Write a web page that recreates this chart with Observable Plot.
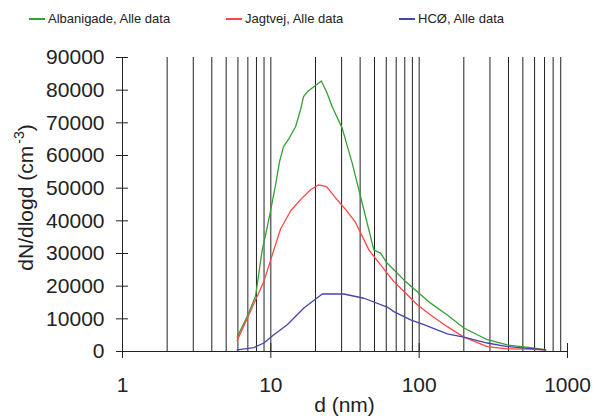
<!DOCTYPE html>
<html><head><meta charset="utf-8">
<script src="https://cdn.jsdelivr.net/npm/d3@7"></script>
<script src="https://cdn.jsdelivr.net/npm/@observablehq/plot@0.6"></script>
<style>
body{margin:0;background:#fff;font-family:"Liberation Sans",Arial,sans-serif;}
#wrap{position:relative;width:595px;height:416px;overflow:hidden;}
#legend{position:relative;height:36px;font-size:13px;color:#222;}
.item{position:absolute;top:11px;white-space:nowrap;line-height:16px;}
.sw{display:inline-block;width:16px;height:2px;vertical-align:middle;margin-right:3px;position:relative;top:-1px;}
svg{overflow:visible;}
</style></head><body>
<div id="wrap"><div id="legend"></div><div id="chart"></div></div>
<script>
// Series names and colours
const seriesNames = ["Albanigade, Alle data", "Jagtvej, Alle data", "HCØ, Alle data"];
const seriesColors = ["#35a035", "#ff4747", "#4646a8"];

// Albanigade (green)
const albD = [5.93, 6.93, 7.88, 8.75, 9.35, 9.95, 10.76, 11.45, 12.18, 13.37, 14.68, 15.86, 16.62, 17.6, 19.41, 21.88, 23.74, 25.94, 30.3, 35.4, 41.52, 49.49, 54.91, 60.94, 67.51, 80.96, 97.1, 119.4, 154.7, 200.2, 287.9, 392.8, 563.9, 711.9];
const albN = [4400, 10700, 16800, 31100, 37000, 43000, 51000, 58100, 62700, 65500, 68800, 74000, 78000, 79500, 81000, 82800, 79500, 74900, 68300, 57600, 45000, 31100, 30100, 27000, 25000, 21400, 18300, 14800, 11200, 7200, 3600, 2000, 1200, 600];

// Jagtvej (red)
const jagD = [5.93, 7.11, 8.97, 10.48, 11.63, 13.58, 15.86, 18.52, 20.97, 23.74, 27.31, 31.89, 37.25, 45.8, 54.91, 67.51, 80.96, 97.1, 119.4, 154.7, 200.2, 287.9, 392.8, 563.9, 711.9];
const jagN = [3400, 11200, 21400, 31100, 37500, 43000, 46500, 49500, 51000, 50500, 47000, 43500, 39500, 31100, 26500, 21400, 17900, 14300, 11200, 7600, 4400, 1500, 800, 700, 400];

// HCØ (blue)
const hcoD = [5.93, 7.68, 8.97, 10.48, 12.9, 16.7, 22.22, 31.06, 42.39, 60.94, 67.51, 87.5, 107.6, 154.7, 200.2, 287.9, 392.8, 563.9, 711.9];
const hcoN = [500, 1200, 2600, 5100, 8200, 13300, 17600, 17600, 16300, 13600, 12200, 9700, 8200, 5400, 4400, 2600, 1500, 900, 500];

// Axes
const xTicks = [1, 10, 100, 1000];
const xGrid = [2, 3, 4, 5, 6, 7, 8, 9, 10, 20, 30, 40, 50, 60, 70, 80, 90, 100, 200, 300, 400, 500, 600, 700, 800, 900];
const yTicks = [0, 10000, 20000, 30000, 40000, 50000, 60000, 70000, 80000, 90000];
const xTitle = "d (nm)";
const yTitleMain = "dN/dlogd (cm";
const yTitleSup = "-3";
const yTitleEnd = ")";

const rows = [
  ...albD.map((d, i) => ({d, n: albN[i], s: seriesNames[0]})),
  ...jagD.map((d, i) => ({d, n: jagN[i], s: seriesNames[1]})),
  ...hcoD.map((d, i) => ({d, n: hcoN[i], s: seriesNames[2]}))
];

// Legend
const legendX = [29, 226, 399];
const legend = document.getElementById("legend");
seriesNames.forEach((name, i) => {
  const it = document.createElement("div");
  it.className = "item";
  it.style.left = legendX[i] + "px";
  it.innerHTML = `<span class="sw" style="background:${seriesColors[i]}"></span>${name}`;
  legend.appendChild(it);
});

const W = 595, H = 380, mL = 122, mR = 28, mT = 21, mB = 65;
const ink = "#222";
const plot = Plot.plot({
  width: W, height: H,
  marginTop: mT, marginBottom: mB, marginLeft: mL, marginRight: mR,
  style: {fontFamily: "'Liberation Sans', Arial, sans-serif", fontSize: "21px", color: ink, background: "#fff", overflow: "visible"},
  x: {type: "log", domain: [xTicks[0], xTicks[xTicks.length - 1]], ticks: xTicks, tickFormat: d => String(d), tickSize: 0, tickPadding: 26, label: null},
  y: {domain: [yTicks[0], yTicks[yTicks.length - 1]], ticks: yTicks, tickFormat: d => String(d), tickSize: 0, tickPadding: 18, label: null},
  color: {domain: seriesNames, range: seriesColors},
  marks: [
    Plot.ruleX(xGrid, {y1: yTicks[0], y2: yTicks[yTicks.length - 1], stroke: ink, strokeWidth: 1}),
    Plot.ruleX([xTicks[0]], {y1: yTicks[0], y2: yTicks[yTicks.length - 1], stroke: ink}),
    Plot.ruleY([yTicks[0]], {x1: xTicks[0], x2: xTicks[xTicks.length - 1], stroke: ink}),
    Plot.ruleX(xTicks, {y1: yTicks[0], y2: yTicks[0], insetTop: 7, insetBottom: 8, stroke: ink}),
    Plot.ruleY(yTicks, {x1: xTicks[0], x2: xTicks[0], insetLeft: 6, insetRight: 6, stroke: ink}),
    Plot.line(rows, {x: "d", y: "n", z: "s", stroke: "s", strokeWidth: 1.3})
  ]
});
document.getElementById("chart").appendChild(plot);

const svg = d3.select(plot);
svg.append("text")
  .attr("x", (mL + W - mR) / 2).attr("y", 375.7)
  .attr("text-anchor", "middle").attr("font-size", 21).attr("fill", ink)
  .text(xTitle);
const yt = svg.append("text")
  .attr("transform", "translate(33,161.5) rotate(-90)")
  .attr("text-anchor", "middle").attr("font-size", 21).attr("fill", ink);
yt.append("tspan").text(yTitleMain);
yt.append("tspan").attr("font-size", 14).attr("dy", -9).attr("dx", 2).text(yTitleSup);
yt.append("tspan").attr("dy", 9).text(yTitleEnd);
</script>
</body></html>
